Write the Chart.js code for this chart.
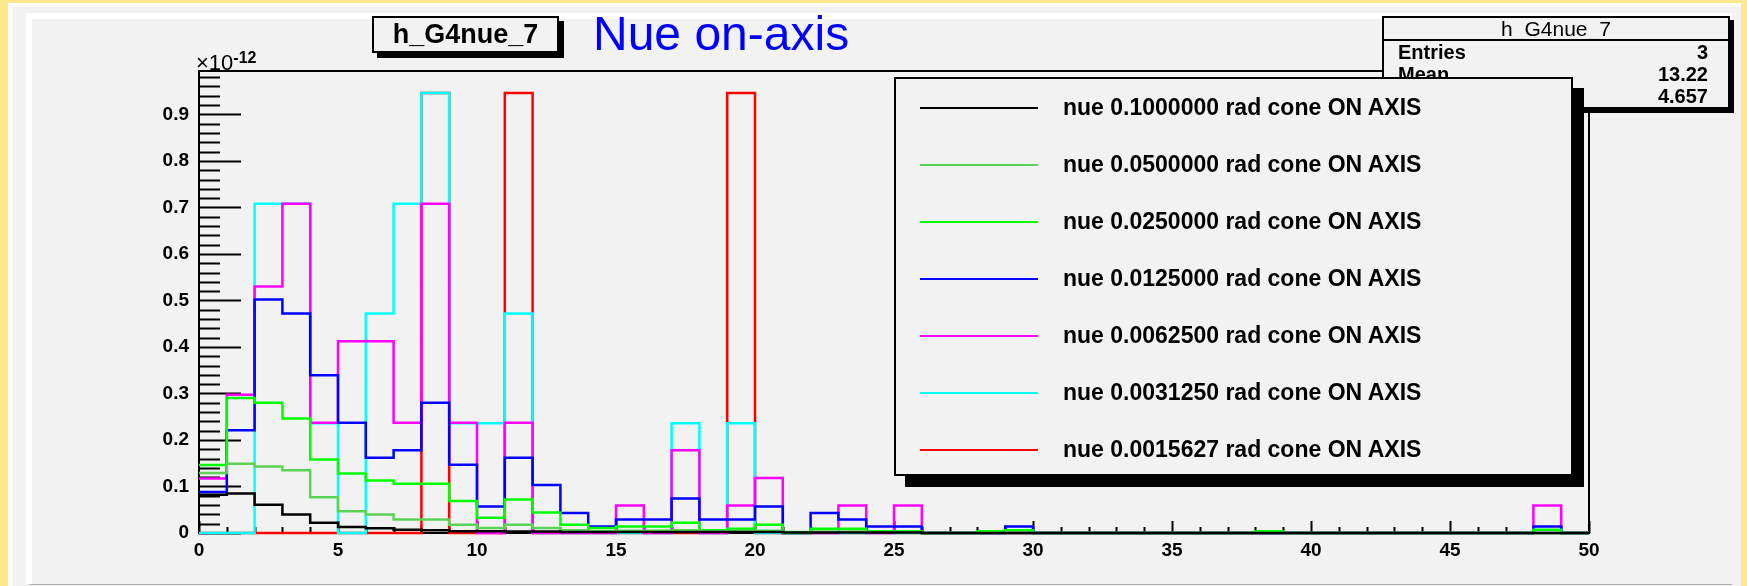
<!DOCTYPE html>
<html>
<head>
<meta charset="utf-8">
<script src="https://cdn.jsdelivr.net/npm/chart.js@4.4.1/dist/chart.umd.min.js"></script>
<style>
  html, body { margin: 0; padding: 0; }
  body { width: 1747px; height: 586px; position: relative; overflow: hidden; background: #fde98c; font-family: 'Liberation Sans', Arial, sans-serif; }
  #outer { position: absolute; left: 8px; top: 3px; width: 1733px; height: 600px; background: #f2f2f2; border-left: 5px solid #fff; border-top: 4px solid #fff; box-sizing: border-box; }
  #pad { position: absolute; left: 26px; top: 13px; width: 1706px; height: 572px; background: #f2f2f2; border-left: 6px solid #fff; border-top: 6px solid #fff; border-bottom: 1px solid #aaa; box-sizing: border-box; }
  #chart { position: absolute; left: 0; top: 0; }
  .box { position: absolute; background: #f2f2f2; border: 2px solid #000; box-sizing: border-box; }
  #titleBox { left: 372px; top: 16px; width: 187px; height: 37px; box-shadow: 5px 5px 0 #000; font-weight: bold; font-size: 27px; text-align: center; line-height: 33px; }
  #mainTitle { position: absolute; left: 593px; top: 7px; font-size: 48px; color: #0000ff; line-height: 54px; }
  #expo { position: absolute; left: 196px; top: 48px; font-size: 22px; line-height: 20px; }
  #expo sup { font-size: 16px; font-weight: bold; vertical-align: 7px; }
  #stats { left: 1382px; top: 16px; width: 348px; height: 93px; box-shadow: 4px 4px 0 #000; font-size: 21px; }
  #stats .hd { position: absolute; left: 0; right: 0; top: 0; height: 21px; border-bottom: 2px solid #000; text-align: center; line-height: 22px; }
  #stats .row { position: absolute; left: 14px; right: 20px; font-weight: bold; font-size: 20px; line-height: 20px; }
  #stats .row span { float: right; }
  #legend { left: 894px; top: 77px; width: 679px; height: 399px; box-shadow: 11px 11px 0 #000; }
  .entry { position: absolute; left: 24px; height: 20px; }
  .entry .ln { position: absolute; left: 0; top: 9px; width: 118px; height: 2px; }
  .entry .tx { position: absolute; left: 143px; top: -4px; white-space: nowrap; font-weight: bold; font-size: 23px; line-height: 26px; }
</style>
</head>
<body>
<div id="outer"></div>
<div id="pad"></div>
<canvas id="chart" width="1747" height="586"></canvas>
<div class="box" id="titleBox">h_G4nue_7</div>
<div id="mainTitle">Nue on-axis</div>
<div id="expo">×10<sup>-12</sup></div>
<div class="box" id="stats">
  <div class="hd">h_G4nue_7</div>
  <div class="row" style="top:24px">Entries<span>3</span></div>
  <div class="row" style="top:46px">Mean<span>13.22</span></div>
  <div class="row" style="top:68px">RMS<span>4.657</span></div>
</div>
<div class="box" id="legend"></div>
<script>
// bin contents in units of 1e-12, bins of width 1 from 0 to 50
const binEdges = Array.from({ length: 51 }, (_, i) => i);

const black = [0.082, 0.085, 0.061, 0.040, 0.022, 0.013, 0.010, 0.007, 0.006, 0.004,
  0.004, 0.003, 0.003, 0.002, 0.002, 0.002, 0.002, 0.002, 0.002, 0.002,
  0.002, 0.001, 0.001, 0.001, 0.001, 0.001, 0, 0, 0, 0,
  0, 0, 0, 0, 0, 0, 0, 0, 0, 0,
  0, 0, 0, 0, 0, 0, 0, 0, 0, 0];
const lightGreen = [0.129, 0.149, 0.143, 0.135, 0.077, 0.047, 0.040, 0.029, 0.029, 0.018,
  0.011, 0.018, 0.011, 0.006, 0.004, 0.005, 0.005, 0.006, 0.004, 0.005,
  0.005, 0.002, 0.003, 0.003, 0.002, 0.002, 0, 0, 0, 0,
  0, 0, 0, 0, 0, 0, 0, 0, 0, 0,
  0, 0, 0, 0, 0, 0, 0, 0, 0, 0];
const green = [0.146, 0.290, 0.280, 0.246, 0.158, 0.128, 0.113, 0.106, 0.106, 0.069,
  0.033, 0.072, 0.044, 0.018, 0.011, 0.014, 0.014, 0.022, 0.006, 0.009,
  0.018, 0, 0.009, 0.009, 0.004, 0.004, 0, 0, 0.004, 0.006,
  0, 0, 0, 0, 0, 0, 0, 0, 0.004, 0,
  0, 0, 0, 0, 0, 0, 0, 0, 0.007, 0];
const blue = [0.088, 0.221, 0.502, 0.472, 0.339, 0.237, 0.162, 0.178, 0.280, 0.147,
  0.057, 0.162, 0.103, 0.043, 0.014, 0.029, 0.029, 0.074, 0.029, 0.029,
  0.057, 0, 0.043, 0.029, 0.014, 0.014, 0, 0, 0, 0.014,
  0, 0, 0, 0, 0, 0, 0, 0, 0, 0,
  0, 0, 0, 0, 0, 0, 0, 0, 0.014, 0];
const magenta = [0.117, 0.297, 0.530, 0.708, 0.237, 0.412, 0.412, 0.237, 0.708, 0.237,
  0, 0.237, 0, 0, 0, 0.059, 0, 0.178, 0, 0.059,
  0.118, 0, 0, 0.059, 0, 0.059, 0, 0, 0, 0,
  0, 0, 0, 0, 0, 0, 0, 0, 0, 0,
  0, 0, 0, 0, 0, 0, 0, 0, 0.059, 0];
const cyan = [0, 0, 0.708, 0.708, 0.236, 0, 0.472, 0.708, 0.946, 0.236,
  0.236, 0.472, 0, 0, 0, 0, 0, 0.236, 0, 0.236,
  0, 0, 0, 0, 0, 0, 0, 0, 0, 0,
  0, 0, 0, 0, 0, 0, 0, 0, 0, 0,
  0, 0, 0, 0, 0, 0, 0, 0, 0, 0];
const red = [0, 0, 0, 0, 0, 0, 0, 0, 0.946, 0,
  0, 0.946, 0, 0, 0, 0, 0, 0, 0, 0.946,
  0, 0, 0, 0, 0, 0, 0, 0, 0, 0,
  0, 0, 0, 0, 0, 0, 0, 0, 0, 0,
  0, 0, 0, 0, 0, 0, 0, 0, 0, 0];

const seriesNames = [
  'nue 0.1000000 rad cone ON AXIS',
  'nue 0.0500000 rad cone ON AXIS',
  'nue 0.0250000 rad cone ON AXIS',
  'nue 0.0125000 rad cone ON AXIS',
  'nue 0.0062500 rad cone ON AXIS',
  'nue 0.0031250 rad cone ON AXIS',
  'nue 0.0015627 rad cone ON AXIS'
];
const seriesColors = ['#000000', '#59d454', '#00ff00', '#0000ff', '#ff00ff', '#00ffff', '#ff0000'];
const seriesData = [black, lightGreen, green, blue, magenta, cyan, red];

const yTicks = [0, 0.1, 0.2, 0.3, 0.4, 0.5, 0.6, 0.7, 0.8, 0.9];
const xTicks = [0, 5, 10, 15, 20, 25, 30, 35, 40, 45, 50];
const yMax = 0.9933;

// histogram outline: one point per bin low edge, plus a closing point at 50
function toSteps(values) {
  const pts = values.map((v, i) => ({ x: binEdges[i], y: v }));
  pts.push({ x: binEdges[binEdges.length - 1], y: values[values.length - 1] });
  return pts;
}

const datasets = seriesData.map((vals, i) => ({
  label: seriesNames[i],
  data: toSteps(vals),
  borderColor: seriesColors[i],
  borderWidth: 2.5,
  stepped: 'before',
  pointRadius: 0,
  fill: false,
  clip: 4
}));

// ROOT style frame with inward ticks
const frameTicks = {
  id: 'frameTicks',
  beforeDatasetsDraw(chart) {
    const { ctx, chartArea: a, scales: { x, y } } = chart;
    ctx.save();
    ctx.strokeStyle = '#000';
    ctx.lineWidth = 2;
    ctx.strokeRect(a.left, a.top, a.right - a.left, a.bottom - a.top);
    ctx.beginPath();
    for (let k = 0; k <= 49; k++) {
      const py = Math.round(y.getPixelForValue(k * 0.02)) + 0.5;
      const len = k % 5 === 0 ? 42 : 21;
      ctx.moveTo(a.left, py);
      ctx.lineTo(a.left + len, py);
    }
    for (let k = 0; k <= 50; k++) {
      const px = Math.round(x.getPixelForValue(k)) + 0.5;
      const len = k % 5 === 0 ? 12 : 6;
      ctx.moveTo(px, a.bottom);
      ctx.lineTo(px, a.bottom - len);
    }
    ctx.stroke();
    ctx.restore();
  }
};

const tickFont = { family: "'Liberation Sans', Arial, sans-serif", size: 19, weight: 'bold' };

new Chart(document.getElementById('chart'), {
  type: 'line',
  data: { datasets: datasets },
  options: {
    responsive: false,
    animation: false,
    events: [],
    layout: { padding: { left: 119, right: 158, top: 71, bottom: 13 } },
    plugins: { legend: { display: false }, tooltip: { enabled: false } },
    scales: {
      x: {
        type: 'linear',
        min: 0,
        max: 50,
        grid: { display: false, drawTicks: false },
        border: { display: false },
        afterBuildTicks: s => { s.ticks = xTicks.map(v => ({ value: v })); },
        afterFit: s => { s.height = 40; },
        ticks: { color: '#000', font: tickFont, padding: 6, maxRotation: 0, autoSkip: false }
      },
      y: {
        min: 0,
        max: yMax,
        grid: { display: false, drawTicks: false },
        border: { display: false },
        afterBuildTicks: s => { s.ticks = yTicks.map(v => ({ value: v })); },
        afterFit: s => { s.width = 80; },
        ticks: {
          color: '#000',
          font: tickFont,
          padding: 10,
          callback: v => (v === 0 ? '0' : v.toFixed(1))
        }
      }
    }
  },
  plugins: [frameTicks]
});

// legend box
const legend = document.getElementById('legend');
seriesNames.forEach((name, i) => {
  const row = document.createElement('div');
  row.className = 'entry';
  row.style.top = (19 + i * 57) + 'px';
  row.innerHTML = `<div class="ln" style="background:${seriesColors[i]}"></div><div class="tx">${name}</div>`;
  legend.appendChild(row);
});
</script>
</body>
</html>
